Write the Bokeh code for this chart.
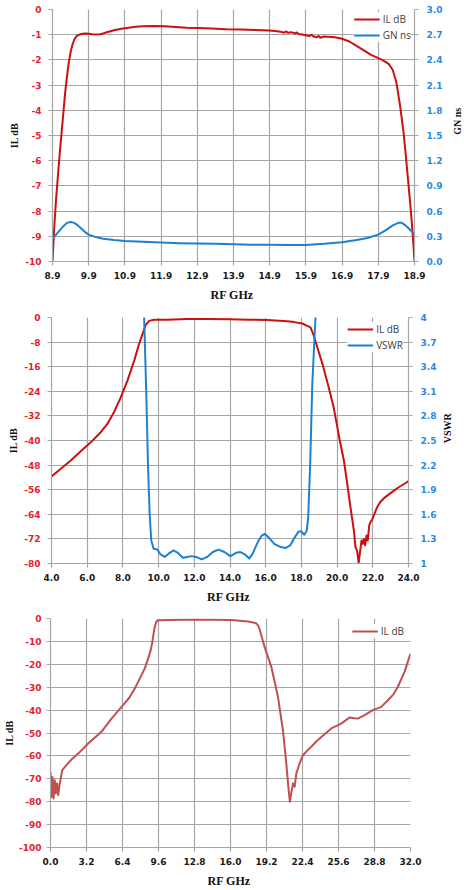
import math
from bokeh.plotting import figure
from bokeh.models import Range1d, LinearAxis, FixedTicker, Legend, LegendItem, NumeralTickFormatter
from bokeh.layouts import column, row
from bokeh.core.properties import value
from bokeh.embed import file_html
from bokeh.resources import INLINE

# ---------------- data ----------------
# Chart 1: passband IL (dB) and group delay GN (ns)
c1_il_freq = [8.90, 8.95, 9.00, 9.05, 9.10, 9.15, 9.20, 9.25, 9.30, 9.35, 9.40, 9.45, 9.50, 9.55,
              9.60, 9.70, 9.80, 9.90, 10.0, 10.1, 10.2, 10.3, 10.4, 10.6, 10.8, 11.0, 11.2, 11.4,
              11.7, 12.0, 12.3, 12.6, 12.9, 13.3, 13.7, 14.1, 14.5, 14.9, 15.1, 15.2, 15.3, 15.35,
              15.4, 15.5, 15.6, 15.65, 15.7, 15.8, 15.9, 16.0, 16.05, 16.1, 16.2, 16.25, 16.3, 16.4,
              16.5, 16.7, 16.9, 17.1, 17.3, 17.5, 17.7, 17.9, 18.0, 18.1, 18.2, 18.3, 18.4, 18.5,
              18.6, 18.7, 18.8, 18.85, 18.9]
c1_il_db = [-10.0, -8.6, -7.5, -6.6, -5.7, -4.9, -4.1, -3.3, -2.65, -2.1, -1.7, -1.4, -1.2, -1.08,
            -1.02, -0.97, -0.95, -0.96, -0.98, -0.99, -0.98, -0.95, -0.90, -0.82, -0.76, -0.72, -0.68, -0.66,
            -0.65, -0.66, -0.69, -0.72, -0.73, -0.75, -0.78, -0.79, -0.81, -0.83, -0.86, -0.88, -0.92, -0.87,
            -0.92, -0.90, -0.95, -0.91, -0.97, -0.99, -1.02, -1.05, -1.00, -1.06, -1.10, -1.05, -1.12, -1.07,
            -1.08, -1.10, -1.16, -1.27, -1.44, -1.62, -1.80, -1.93, -2.00, -2.08, -2.18, -2.40, -2.90, -3.80,
            -4.90, -6.40, -8.00, -8.90, -10.0]
c1_gn_freq = [8.9, 9.0, 9.1, 9.2, 9.3, 9.4, 9.5, 9.6, 9.7, 9.8, 9.9, 10.1, 10.3, 10.6, 10.9, 11.4,
              11.9, 12.4, 12.9, 13.4, 13.9, 14.4, 14.9, 15.4, 15.9, 16.4, 16.9, 17.3, 17.6, 17.9,
              18.1, 18.3, 18.45, 18.55, 18.65, 18.75, 18.9]
c1_gn_ns = [0.27, 0.32, 0.37, 0.42, 0.46, 0.47, 0.46, 0.43, 0.39, 0.35, 0.32, 0.29, 0.27, 0.255, 0.245, 0.235,
            0.225, 0.218, 0.215, 0.21, 0.205, 0.20, 0.20, 0.197, 0.197, 0.21, 0.23, 0.255, 0.28, 0.32,
            0.37, 0.43, 0.46, 0.46, 0.43, 0.39, 0.32]
c1_x_ticks = [8.9, 9.9, 10.9, 11.9, 12.9, 13.9, 14.9, 15.9, 16.9, 17.9, 18.9]
c1_yl_ticks = [0, -1, -2, -3, -4, -5, -6, -7, -8, -9, -10]
c1_yr_ticks = [0.0, 0.3, 0.6, 0.9, 1.2, 1.5, 1.8, 2.1, 2.4, 2.7, 3.0]

# Chart 2: wideband IL (dB) and VSWR
c2_il_freq = [4.0, 4.52, 5.08, 5.64, 6.2, 6.76, 7.13, 7.5, 7.88, 8.25, 8.63, 8.9, 9.1, 9.28, 9.47,
              9.75, 10.5, 11.6, 12.8, 14.0, 15.0, 16.1, 17.2, 17.6, 18.05, 18.33, 18.51, 18.7, 18.89,
              19.2, 19.5, 19.8, 20.15, 20.38, 20.57, 20.75, 20.94, 21.03, 21.12, 21.21, 21.27, 21.37,
              21.44, 21.5, 21.57, 21.65, 21.72, 21.8, 21.87, 21.96, 22.05, 22.24, 22.42, 22.7, 23.07,
              23.45, 23.82, 24.0]
c2_il_db = [-51.7, -49.2, -46.5, -43.5, -40.6, -37.3, -34.6, -30.8, -26.0, -20.6, -14.1, -8.7, -5.4, -2.4, -1.1,
            -0.76, -0.7, -0.45, -0.5, -0.6, -0.7, -0.85, -1.2, -1.5, -1.95, -2.7, -3.2, -6.0, -9.7,
            -15.5, -22.0, -29.0, -40.0, -46.5, -54.1, -61.7, -69.3, -74.7, -75.8, -79.9, -76.9, -72.5,
            -73.6, -72.0, -74.1, -70.9, -72.5, -67.6, -66.5, -65.8, -64.4, -61.7, -60.0, -58.4, -56.8,
            -55.2, -53.9, -53.2]
c2_vswr_freq = [9.10, 9.19, 9.32, 9.41, 9.50, 9.59, 9.72, 9.93, 10.11, 10.34, 10.56, 10.84, 11.08, 11.36,
                11.6, 11.86, 12.1, 12.42, 12.72, 13.04, 13.35, 13.69, 14.02, 14.34, 14.58, 14.84, 15.08,
                15.27, 15.51, 15.77, 15.96, 16.2, 16.48, 16.85, 17.13, 17.37, 17.6, 17.84, 18.0, 18.16,
                18.3, 18.38, 18.49, 18.61, 18.79, 18.88]
c2_vswr = [5.0, 4.0, 2.99, 2.17, 1.6, 1.28, 1.18, 1.17, 1.11, 1.08, 1.12, 1.16, 1.13, 1.07,
           1.08, 1.09, 1.08, 1.05, 1.08, 1.14, 1.17, 1.14, 1.09, 1.13, 1.14, 1.11, 1.06,
           1.12, 1.24, 1.34, 1.36, 1.31, 1.24, 1.20, 1.19, 1.22, 1.31, 1.39, 1.39, 1.35,
           1.40, 1.56, 2.2, 3.19, 4.0, 5.0]
c2_x_ticks = [4.0, 6.0, 8.0, 10.0, 12.0, 14.0, 16.0, 18.0, 20.0, 22.0, 24.0]
c2_yl_ticks = [0, -8, -16, -24, -32, -40, -48, -56, -64, -72, -80]
c2_yr_ticks = [1.0, 1.3, 1.6, 1.9, 2.2, 2.5, 2.8, 3.1, 3.4, 3.7, 4.0]

# Chart 3: broadband IL (dB) 0-32 GHz
c3_il_freq = [0.0, 0.09, 0.18, 0.27, 0.38, 0.47, 0.59, 0.68, 0.83, 1.04, 1.42, 1.86, 2.46, 3.35, 4.53,
              5.42, 6.45, 7.0, 7.49, 8.0, 8.38, 8.7, 8.91, 9.05, 9.15, 9.27, 9.38, 9.48, 9.6, 10.45,
              12.82, 16.07, 17.55, 18.0, 18.3, 18.45, 18.59, 18.8, 19.03, 19.63, 20.22, 20.66, 20.96,
              21.17, 21.28, 21.4, 21.55, 21.7, 21.85, 22.14, 22.44, 22.8, 23.18, 23.6, 24.07, 24.96,
              25.84, 26.2, 26.58, 27.0, 27.32, 27.92, 28.66, 29.4, 29.99, 30.5, 30.88, 31.47, 32.0]
c3_il_db = [-67.0, -77.9, -69.2, -78.6, -70.6, -76.4, -72.0, -77.1, -72.0, -66.2, -64.0, -61.6, -59.0, -54.6,
            -49.5, -43.7, -37.8, -34.6, -30.6, -25.6, -21.8, -17.2, -13.8, -10.2, -7.0, -3.6, -1.8, -1.0,
            -0.75, -0.7, -0.45, -0.7, -1.3, -1.7, -2.2, -3.0, -4.8, -8.4, -12.4, -21.1, -34.2, -48.8,
            -63.3, -75.0, -80.0, -76.4, -72.0, -73.5, -67.7, -63.3, -59.7, -57.8, -56.0, -53.8, -51.7,
            -48.0, -45.9, -44.6, -43.2, -43.6, -43.7, -42.2, -40.0, -38.6, -35.7, -33.0, -29.8, -23.3,
            -15.3]
c3_x_ticks = [0.0, 3.2, 6.4, 9.6, 12.8, 16.0, 19.2, 22.4, 25.6, 28.8, 32.0]
c3_y_ticks = [0, -10, -20, -30, -40, -50, -60, -70, -80, -90, -100]

# ---------------- style ----------------
GRID = "#a6a6a6"
RED_TICK = "#e3212b"
BLUE_TICK = "#2e8ad8"
RED_LINE = "#cc1010"
BLUE_LINE = "#1f80d0"
RED3_LINE = "#c0504d"
TICK_FONT = "DejaVu Sans"
TITLE_FONT = "Liberation Serif"


def style_axis(ax, ticks, fmt, color, title, standoff, title_standoff, title_size="10px"):
    ax.ticker = FixedTicker(ticks=ticks)
    ax.formatter = NumeralTickFormatter(format=fmt)
    ax.major_label_text_font = TICK_FONT
    ax.major_label_text_font_style = "bold"
    ax.major_label_text_font_size = "9px"
    ax.major_label_text_color = color
    ax.major_label_standoff = standoff
    ax.major_tick_in = 0
    ax.major_tick_out = 4
    ax.minor_tick_in = 0
    ax.minor_tick_out = 0
    ax.major_tick_line_color = GRID
    ax.major_tick_line_width = 1.2
    ax.axis_line_color = GRID
    ax.axis_line_width = 1.2
    ax.axis_label = title
    ax.axis_label_text_font = TITLE_FONT
    ax.axis_label_text_font_style = "bold"
    ax.axis_label_text_font_size = title_size
    ax.axis_label_text_color = "#111111"
    ax.axis_label_standoff = title_standoff


def make_fig(xr, yr, fw, fh, left, right, top, bottom):
    p = figure(x_range=Range1d(*xr), y_range=Range1d(*yr), frame_width=fw, frame_height=fh,
               min_border_left=left, min_border_right=right, min_border_top=top,
               min_border_bottom=bottom, output_backend="svg", toolbar_location=None,
               background_fill_color="white", border_fill_color="white")
    p.outline_line_color = None
    for g in (p.xgrid[0], p.ygrid[0]):
        g.grid_line_color = GRID
        g.grid_line_width = 1.2
    return p


def side_title(text, width, height, cx, center_from_top):
    """Narrow strip holding a right-hand axis title that reads bottom-to-top."""
    t = figure(width=width, height=height, x_range=Range1d(0, width), y_range=Range1d(0, height),
               min_border=0, output_backend="svg", toolbar_location=None,
               x_axis_location=None, y_axis_location=None,
               background_fill_color="white", border_fill_color="white")
    t.outline_line_color = None
    t.grid.visible = False
    t.text(x=[cx], y=[height - center_from_top], text=[text], angle=math.pi / 2,
           text_align="center", text_baseline="middle", text_font=value(TITLE_FONT),
           text_font_style="bold", text_font_size="10px", text_color="#111111")
    return t


def style_legend(p, items, margin):
    leg = Legend(items=items, location="top_right")
    leg.label_text_font = "Open Sans"
    leg.label_text_font_size = "10px"
    leg.label_text_color = "#404040"
    leg.glyph_width = 26
    leg.glyph_height = 10
    leg.label_height = 12
    leg.label_standoff = 3
    leg.spacing = 2
    leg.padding = 3
    leg.margin = margin
    leg.border_line_color = None
    leg.background_fill_color = "white"
    leg.background_fill_alpha = 1.0
    p.add_layout(leg)


# ---- chart 1 ----  (row width 52 + 362 + 36 + 14 = 464)
p1 = make_fig((8.9, 18.9), (-10, 0), 362, 252, 52, 36, 9, 42)
p1.extra_y_ranges = {"gn": Range1d(0, 3)}
r1 = p1.line(c1_il_freq, c1_il_db, line_color=RED_LINE, line_width=2, line_join="round")
r2 = p1.line(c1_gn_freq, c1_gn_ns, line_color=BLUE_LINE, line_width=2, line_join="round", y_range_name="gn")
ax1r = LinearAxis(y_range_name="gn")
p1.add_layout(ax1r, "right")
style_axis(p1.xaxis[0], c1_x_ticks, "0.0", "#1a1a1a", "RF  GHz", 6, 6, "12px")
style_axis(p1.yaxis[0], c1_yl_ticks, "0", RED_TICK, "IL dB", 7, 2)
style_axis(ax1r, c1_yr_ticks, "0.0", BLUE_TICK, None, 8, 0)
p1.xgrid[0].ticker = FixedTicker(ticks=c1_x_ticks)
p1.ygrid[0].ticker = FixedTicker(ticks=c1_yl_ticks)
style_legend(p1, [LegendItem(label="IL dB", renderers=[r1]), LegendItem(label="GN ns", renderers=[r2])], 3)
t1 = side_title("GN ns", 14, 303, 7, 135)

# ---- chart 2 ----  (row width 51 + 357 + 32 + 24 = 464)
p2 = make_fig((4.0, 24.0), (-80, 0), 357, 246, 51, 32, 13, 42)
p2.extra_y_ranges = {"vswr": Range1d(1, 4)}
s1 = p2.line(c2_il_freq, c2_il_db, line_color=RED_LINE, line_width=2, line_join="round")
s2 = p2.line(c2_vswr_freq, c2_vswr, line_color=BLUE_LINE, line_width=2, line_join="round", y_range_name="vswr")
ax2r = LinearAxis(y_range_name="vswr")
p2.add_layout(ax2r, "right")
style_axis(p2.xaxis[0], c2_x_ticks, "0.0", "#1a1a1a", "RF  GHz", 6, 6, "12px")
style_axis(p2.yaxis[0], c2_yl_ticks, "0", RED_TICK, "IL dB", 7, 2)
style_axis(ax2r, c2_yr_ticks, "0.[0]", BLUE_TICK, None, 8, 0)
p2.xgrid[0].ticker = FixedTicker(ticks=c2_x_ticks)
p2.ygrid[0].ticker = FixedTicker(ticks=c2_yl_ticks)
style_legend(p2, [LegendItem(label="IL dB", renderers=[s1]), LegendItem(label="VSWR", renderers=[s2])], 5)
t2 = side_title("VSWR", 24, 301, 7, 136)

# ---- chart 3 ----  (width 49 + 360 + 55 = 464)
p3 = make_fig((0.0, 32.0), (-100, 0), 360, 229, 49, 55, 12, 42)
u1 = p3.line(c3_il_freq, c3_il_db, line_color=RED3_LINE, line_width=2, line_join="round")
style_axis(p3.xaxis[0], c3_x_ticks, "0.0", "#1a1a1a", "RF  GHz", 6, 6, "12px")
style_axis(p3.yaxis[0], c3_y_ticks, "0", RED_TICK, "IL dB", 5, 1)
p3.xgrid[0].ticker = FixedTicker(ticks=c3_x_ticks)
p3.ygrid[0].ticker = FixedTicker(ticks=c3_y_ticks)
style_legend(p3, [LegendItem(label="IL dB", renderers=[u1])], 6)

layout = column(row(p1, t1, spacing=0), row(p2, t2, spacing=0), p3, spacing=0)
open("out.html", "w").write(file_html(layout, INLINE))
